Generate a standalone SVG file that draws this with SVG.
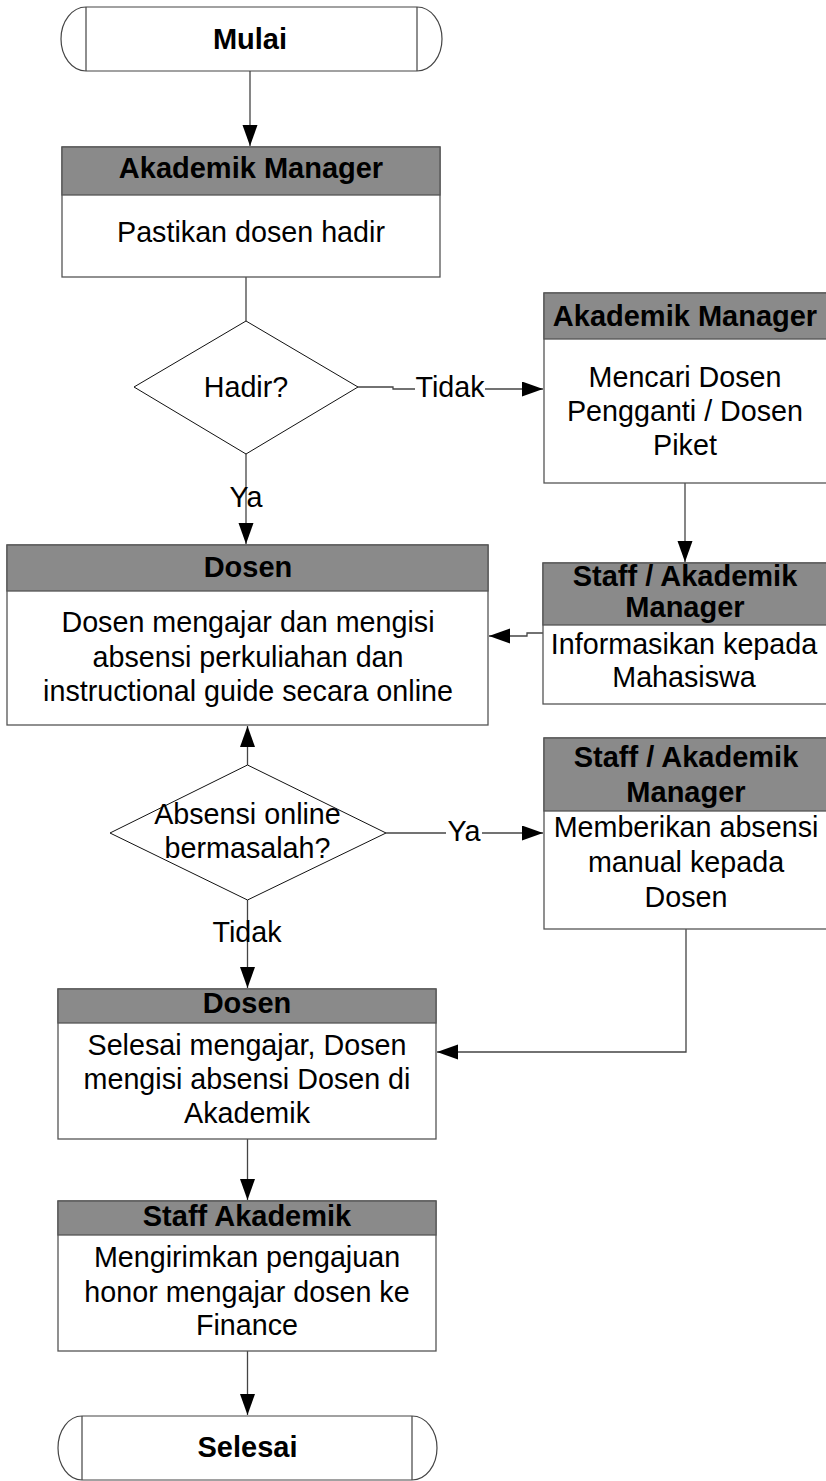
<svg xmlns="http://www.w3.org/2000/svg" width="826" height="1481" viewBox="0 0 826 1481">
<style>
.box{fill:#fff;stroke:#555;stroke-width:1.3}
.hdr{fill:#8a8a8a;stroke:#555;stroke-width:1.3}
.term{fill:#fff;stroke:#444;stroke-width:1.2}
.dia{fill:#fff;stroke:#111;stroke-width:1}
.con{fill:none;stroke:#444;stroke-width:1.3}
text{font-family:"Liberation Sans",Arial,sans-serif;text-anchor:middle;fill:#000}
.b{font-weight:bold;font-size:29px}
.r{font-size:28.7px}
</style>
<defs>
<marker id="ah" markerUnits="userSpaceOnUse" markerWidth="22" markerHeight="16" refX="21" refY="7.5" orient="auto">
<path d="M0,0 L21,7.5 L0,15 z" fill="#000"/>
</marker>
</defs>

<g id="connectors">
<path class="con" d="M250,71 V146" marker-end="url(#ah)"/>
<path class="con" d="M246,277 V321" stroke="#111"/>
<path class="con" d="M358,387 H393 V389 H415"/>
<path class="con" d="M485,389 H543" marker-end="url(#ah)"/>
<path class="con" d="M246,454 V544" marker-end="url(#ah)"/>
<path class="con" d="M685,483 V562" marker-end="url(#ah)"/>
<path class="con" d="M543,633 H527 V636 H489" marker-end="url(#ah)"/>
<path class="con" d="M247.5,765 V726" marker-end="url(#ah)"/>
<path class="con" d="M386,833 H446"/>
<path class="con" d="M482,833 H543" marker-end="url(#ah)"/>
<path class="con" d="M247.5,900 V988" marker-end="url(#ah)"/>
<path class="con" d="M686,929 V1052 H437" marker-end="url(#ah)"/>
<path class="con" d="M247.5,1139 V1200" marker-end="url(#ah)"/>
<path class="con" d="M247.5,1351 V1415" marker-end="url(#ah)"/>
<text class="r" x="450" y="397">Tidak</text>
<text class="r" x="246" y="507">Ya</text>
<text class="r" x="464" y="841">Ya</text>
<text class="r" x="247" y="942">Tidak</text>
</g>

<g id="mulai">
<path class="term" d="M86,7 H417 A25,32 0 0 1 417,71 H86 A25,32 0 0 1 86,7 z"/>
<path class="term" d="M86,7 V71 M417,7 V71"/>
<text class="b" x="250" y="49">Mulai</text>
</g>

<g id="pastikan">
<rect class="box" x="62" y="147" width="378" height="130"/>
<rect class="hdr" x="62" y="147" width="378" height="48"/>
<text class="b" x="251" y="178">Akademik Manager</text>
<text class="r" x="251" y="242">Pastikan dosen hadir</text>
</g>

<g id="hadir">
<path class="dia" d="M246,321 L358,387 L246,454 L134,387 z"/>
<text class="r" x="246" y="397">Hadir?</text>
</g>

<g id="mencari">
<rect class="box" x="544" y="293" width="290" height="190"/>
<rect class="hdr" x="544" y="293" width="290" height="46"/>
<text class="b" x="685" y="326">Akademik Manager</text>
<text class="r" x="685" y="387">Mencari Dosen</text>
<text class="r" x="685" y="421">Pengganti / Dosen</text>
<text class="r" x="685" y="455">Piket</text>
</g>

<g id="informasikan">
<rect class="box" x="543" y="563" width="291" height="141"/>
<rect class="hdr" x="543" y="563" width="291" height="62"/>
<text class="b" x="685" y="586">Staff / Akademik</text>
<text class="b" x="685" y="617">Manager</text>
<text class="r" x="684" y="654">Informasikan kepada</text>
<text class="r" x="684" y="687">Mahasiswa</text>
</g>

<g id="mengajar">
<rect class="box" x="7" y="545" width="481" height="180"/>
<rect class="hdr" x="7" y="545" width="481" height="46"/>
<text class="b" x="248" y="577">Dosen</text>
<text class="r" x="248" y="632">Dosen mengajar dan mengisi</text>
<text class="r" x="248" y="667">absensi perkuliahan dan</text>
<text class="r" x="248" y="701">instructional guide secara online</text>
</g>

<g id="absensi">
<path class="dia" d="M247.5,765 L386,833 L247.5,900 L110,833 z"/>
<text class="r" x="247.5" y="824">Absensi online</text>
<text class="r" x="247.5" y="858">bermasalah?</text>
</g>

<g id="memberikan">
<rect class="box" x="544" y="738" width="290" height="191"/>
<rect class="hdr" x="544" y="738" width="290" height="73"/>
<text class="b" x="686" y="767">Staff / Akademik</text>
<text class="b" x="686" y="802">Manager</text>
<text class="r" x="686" y="837">Memberikan absensi</text>
<text class="r" x="686" y="872">manual kepada</text>
<text class="r" x="686" y="907">Dosen</text>
</g>

<g id="selesai-mengajar">
<rect class="box" x="58" y="989" width="378" height="150"/>
<rect class="hdr" x="58" y="989" width="378" height="34"/>
<text class="b" x="247" y="1013">Dosen</text>
<text class="r" x="247" y="1055">Selesai mengajar, Dosen</text>
<text class="r" x="247" y="1089">mengisi absensi Dosen di</text>
<text class="r" x="247" y="1123">Akademik</text>
</g>

<g id="honor">
<rect class="box" x="58" y="1201" width="378" height="150"/>
<rect class="hdr" x="58" y="1201" width="378" height="34"/>
<text class="b" x="247" y="1226">Staff Akademik</text>
<text class="r" x="247" y="1267">Mengirimkan pengajuan</text>
<text class="r" x="247" y="1302">honor mengajar dosen ke</text>
<text class="r" x="247" y="1335">Finance</text>
</g>

<g id="selesai">
<path class="term" d="M82,1416 H412 A25,32 0 0 1 412,1480 H82 A24,32 0 0 1 82,1416 z"/>
<path class="term" d="M82,1416 V1480 M412,1416 V1480"/>
<text class="b" x="247.5" y="1457">Selesai</text>
</g>
</svg>
